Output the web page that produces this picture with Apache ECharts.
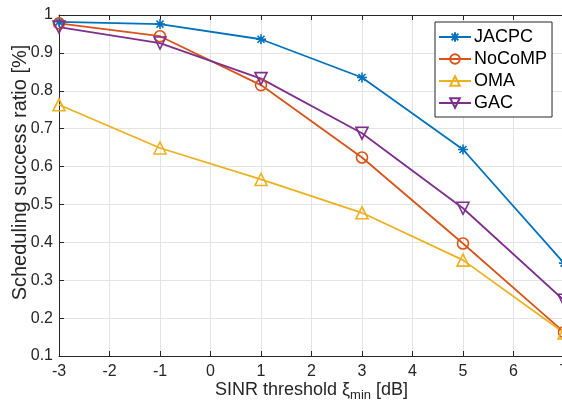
<!DOCTYPE html>
<html>
<head>
<meta charset="utf-8">
<script src="https://cdn.jsdelivr.net/npm/echarts@6/dist/echarts.min.js"></script>
<style>
  html, body { margin: 0; padding: 0; background: #fff; }
  #chart { width: 562px; height: 402px; }
</style>
</head>
<body>
<div id="chart"></div>
<script>
// SINR threshold (dB)
const xValues = [-3, -1, 1, 3, 5, 7];
const jacpc  = [0.982, 0.976, 0.936, 0.835, 0.645, 0.345];
const nocomp = [0.978, 0.944, 0.815, 0.624, 0.397, 0.163];
const oma    = [0.763, 0.649, 0.566, 0.478, 0.353, 0.161];
const gac    = [0.968, 0.926, 0.832, 0.688, 0.490, 0.247];
const names  = ['JACPC', 'NoCoMP', 'OMA', 'GAC'];

const font = 'Liberation Sans, Arial, Helvetica, sans-serif';
const axisColor = '#262626';
const gridColor = '#e3e3e3';

// marker shapes like matlab's * o ^ v
const asterisk = 'path://M0,-5L0,5M-5,0L5,0M-3.5,-3.5L3.5,3.5M-3.5,3.5L3.5,-3.5';
const downTri = 'path://M-5,-4.3L5,-4.3L0,4.3Z';

function pairs(ys) {
  return xValues.map((x, i) => [x, ys[i]]);
}

function makeSeries(name, ys, color, symbol, size) {
  return {
    name: name,
    type: 'line',
    data: pairs(ys),
    symbol: symbol,
    symbolSize: size,
    showAllSymbol: true,
    color: color,
    lineStyle: { color: color, width: 1.8 },
    itemStyle: { color: 'none', borderColor: color, borderWidth: 1.6 },
    emphasis: { disabled: true },
    z: 3
  };
}

const chart = echarts.init(document.getElementById('chart'));
chart.setOption({
  animation: false,
  textStyle: { fontFamily: font },
  grid: { left: 59, right: -2, top: 15, bottom: 46, outerBoundsMode: 'none', containLabel: false },
  legend: {
    orient: 'vertical',
    left: 435,
    top: 22,
    padding: [6, 5, 5, 3],
    itemWidth: 32,
    itemHeight: 12,
    itemGap: 4,
    backgroundColor: '#fff',
    borderColor: axisColor,
    borderWidth: 1,
    borderRadius: 0,
    textStyle: { fontSize: 18, color: '#000', fontFamily: font, padding: [0, 0, 0, -2] },
    data: names
  },
  xAxis: [
    {
      type: 'value',
      min: -3,
      max: 7,
      interval: 1,
      name: '{a|SINR threshold ξ}{s|min}{a| [dB]}',
      nameLocation: 'middle',
      nameGap: 23,
      nameMoveOverlap: false,
      nameTextStyle: {
        rich: {
          a: { fontSize: 18, color: '#262626', fontFamily: font },
          s: { fontSize: 13, color: '#262626', fontFamily: font, padding: [10, 0, 0, 0] }
        }
      },
      axisLine: { show: true, onZero: false, lineStyle: { color: axisColor, width: 1 } },
      axisTick: { inside: true, length: 5, lineStyle: { color: axisColor } },
      axisLabel: { fontSize: 16, color: '#262626', margin: 8 },
      splitLine: { show: true, lineStyle: { color: gridColor, width: 1 } }
    },
    {
      type: 'value',
      position: 'top',
      min: -3,
      max: 7,
      interval: 1,
      axisLine: { show: true, onZero: false, lineStyle: { color: axisColor, width: 1 } },
      axisTick: { inside: true, length: 5, lineStyle: { color: axisColor } },
      axisLabel: { show: false },
      splitLine: { show: false }
    }
  ],
  yAxis: {
    type: 'value',
    min: 0.1,
    max: 1,
    interval: 0.1,
    name: 'Scheduling success ratio [%]',
    nameLocation: 'middle',
    nameGap: 29,
    nameMoveOverlap: false,
    nameTextStyle: { fontSize: 20, color: '#262626', padding: [0, 0, 0, 26] },
    axisLine: { show: true, onZero: false, lineStyle: { color: axisColor, width: 1 } },
    axisTick: { show: true, inside: true, length: 5, lineStyle: { color: axisColor } },
    axisLabel: {
      fontSize: 16,
      color: '#262626',
      margin: 6,
      formatter: v => (Math.abs(v - 1) < 1e-9 ? '1' : v.toFixed(1))
    },
    splitLine: { show: true, lineStyle: { color: gridColor, width: 1 } }
  },
  series: [
    makeSeries('JACPC', jacpc, '#0072BD', asterisk, 10),
    makeSeries('NoCoMP', nocomp, '#D95319', 'circle', 11),
    makeSeries('OMA', oma, '#EDB120', 'triangle', 12),
    makeSeries('GAC', gac, '#7E2F8E', downTri, 12)
  ]
});
</script>
</body>
</html>
